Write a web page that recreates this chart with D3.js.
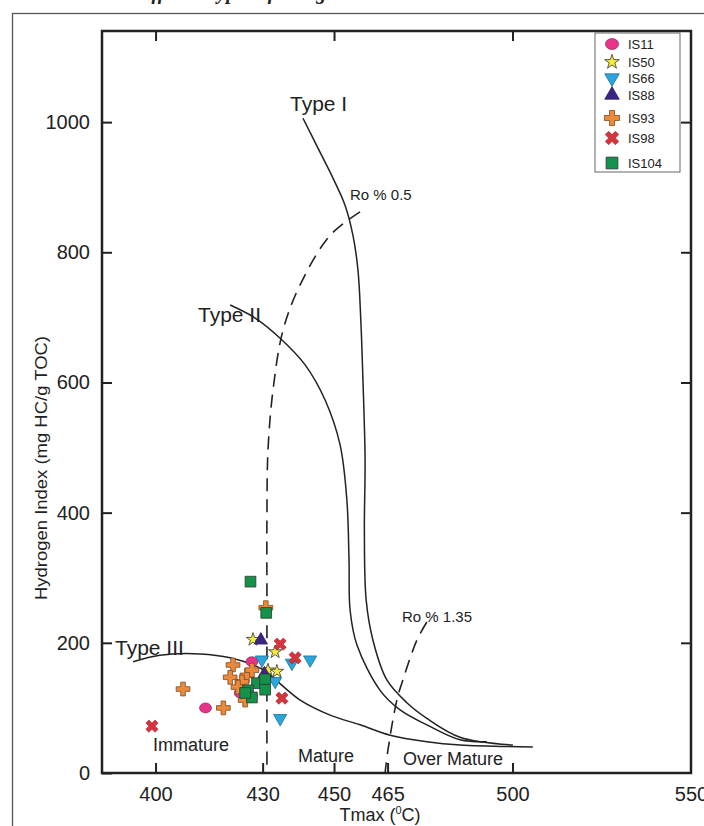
<!DOCTYPE html>
<meta charset="utf-8">
<script src="https://d3js.org/d3.v7.min.js"></script>
<style>
  body { margin: 0; background: #fff; }
  text { font-family: "Liberation Sans", Arial, sans-serif; fill: #222; }
</style>
<div id="my_dataviz"></div>
<script>

  // ---- data ----
  // samples: [Tmax, HI]
  var is11 = [[427, 171], [414, 100], [423.7, 123]];
  var is50 = [[427.3, 205], [433.5, 186], [431.5, 158], [434, 156]];
  var is66 = [[429.8, 174], [438.2, 169], [443.3, 174], [433.5, 141], [434.9, 84]];
  var is88 = [[429.5, 204], [430.5, 152]];
  var is93 = [[430.9, 254], [421.7, 166], [425.6, 150], [427, 158], [424.2, 140],
              [423.1, 132], [426.5, 120], [425.1, 112], [420.9, 147], [407.7, 129], [419, 100]];
  var is98 = [[434.9, 198], [439.1, 177], [435.4, 115], [399, 72]];
  var is104 = [[426.6, 294], [431, 246], [428.4, 138], [430.7, 144], [425.9, 127],
               [430.7, 128], [427, 116], [425.1, 123]];

  // kerogen type curves and vitrinite reflectance lines: [Tmax, HI]
  var typeI = [[441.3, 1006], [445.5, 960], [449.7, 914], [453.1, 872], [455.3, 826], [456.7, 773],
               [457.5, 696], [458.1, 604], [458.7, 481], [458.5, 373], [459, 266], [460.9, 204],
               [464.8, 143], [470.4, 108], [476, 84], [485.3, 55], [500.1, 43]];
  var typeII = [[420.9, 719], [427.9, 699], [434.9, 668], [441.9, 627], [447.5, 573], [451.7, 504],
                [453.6, 419], [454.2, 327], [454.5, 250], [456.4, 197], [462.9, 127], [468.5, 97],
                [476, 74], [485.3, 51], [492.8, 48]];
  var typeIII = [[393.7, 171], [401.2, 181], [412.5, 183], [420.9, 177], [429.3, 161], [440.5, 112],
                 [448.9, 89], [457.3, 74], [465.7, 58], [476, 48], [485.3, 43], [505.7, 40]];
  var ro05 = [[457.3, 862], [448.9, 826], [440.5, 750], [435.7, 680], [432.9, 588], [431.5, 496],
              [431.2, 389], [431.2, 266], [431.2, 0]];
  var ro135 = [[476, 232], [473.2, 204], [469.3, 143], [467.6, 112], [465.1, 35], [464.3, 0]];

  var xTicks = [400, 430, 450, 465, 500, 550];
  var xTopTicks = [400, 450, 500];
  var yTicks = [0, 200, 400, 600, 800, 1000];

  var series = [
    { name: "IS11", data: is11, shape: "ellipse", color: "#e8338b" },
    { name: "IS93", data: is93, shape: "plus", color: "#ec8a3c" },
    { name: "IS50", data: is50, shape: "star", color: "#f4ec3a" },
    { name: "IS66", data: is66, shape: "down", color: "#2aa6dc" },
    { name: "IS88", data: is88, shape: "up", color: "#3a2585" },
    { name: "IS98", data: is98, shape: "x", color: "#d5343c" },
    { name: "IS104", data: is104, shape: "square", color: "#15924a" }
  ];
  var legendOrder = ["IS11", "IS50", "IS66", "IS88", "IS93", "IS98", "IS104"];

  // ---- layout ----
  var W = 704, H = 826;
  var plot = { left: 102, right: 691, top: 31, bottom: 773 };

  var svg = d3.select("#my_dataviz")
    .append("svg")
    .attr("width", W)
    .attr("height", H);

  // cut-off caption at the very top (only descenders show)
  svg.append("text")
    .attr("x", 136)
    .attr("y", -1)
    .style("font-family", "'Liberation Serif', 'Times New Roman', serif")
    .style("font-style", "italic")
    .style("font-weight", "bold")
    .style("font-size", "20px")
    .text("different types of kerogen");

  // outer figure frame
  svg.append("rect")
    .attr("x", 12.5).attr("y", 13.5)
    .attr("width", 720).attr("height", 840)
    .attr("fill", "none")
    .attr("stroke", "#555")
    .attr("stroke-width", 1.3);

  var x = d3.scaleLinear().domain([385, 550]).range([plot.left, plot.right]);
  var y = d3.scaleLinear().domain([0, 1140]).range([plot.bottom, plot.top]);

  // axes, ticks pointing inwards
  var gx = svg.append("g")
    .attr("transform", "translate(0," + plot.bottom + ")")
    .call(d3.axisBottom(x).tickValues(xTicks).tickSize(-10).tickPadding(14).tickFormat(d3.format("d")));
  var gxTop = svg.append("g")
    .attr("transform", "translate(0," + plot.top + ")")
    .call(d3.axisTop(x).tickValues(xTopTicks).tickSize(-10).tickFormat(""));
  var gy = svg.append("g")
    .attr("transform", "translate(" + plot.left + ",0)")
    .call(d3.axisLeft(y).tickValues(yTicks).tickSize(-10).tickPadding(12).tickFormat(d3.format("d")));
  var gyR = svg.append("g")
    .attr("transform", "translate(" + plot.right + ",0)")
    .call(d3.axisRight(y).tickValues(yTicks.slice(1)).tickSize(-10).tickFormat(""));

  [gx, gxTop, gy, gyR].forEach(function (g) {
    g.select(".domain").remove();
    g.selectAll(".tick line").attr("stroke", "#222").attr("stroke-width", 2);
    g.selectAll(".tick text")
      .style("font-family", "'Liberation Sans', Arial, sans-serif")
      .style("font-size", "20px")
      .attr("fill", "#222");
  });
  gx.selectAll(".tick").filter(function (d) { return d === 550; }).select("line").remove();

  // plot frame
  svg.append("rect")
    .attr("x", plot.left).attr("y", plot.top)
    .attr("width", plot.right - plot.left).attr("height", plot.bottom - plot.top)
    .attr("fill", "none")
    .attr("stroke", "#222")
    .attr("stroke-width", 2.5);

  // axis titles
  var xt = svg.append("text")
    .attr("x", 380).attr("y", 821)
    .attr("text-anchor", "middle")
    .style("font-size", "18px");
  xt.append("tspan").text("Tmax (");
  xt.append("tspan").attr("dy", -7).style("font-size", "11px").text("0");
  xt.append("tspan").attr("dy", 7).text("C)");

  svg.append("text")
    .attr("transform", "translate(47,468) rotate(-90)")
    .attr("text-anchor", "middle")
    .attr("textLength", 264)
    .attr("lengthAdjust", "spacingAndGlyphs")
    .style("font-size", "17px")
    .text("Hydrogen Index (mg HC/g TOC)");

  // curves
  var line = d3.line()
    .x(function (d) { return x(d[0]); })
    .y(function (d) { return y(d[1]); })
    .curve(d3.curveCatmullRom.alpha(0.5));

  [typeI, typeII, typeIII].forEach(function (c) {
    svg.append("path")
      .datum(c)
      .attr("fill", "none")
      .attr("stroke", "#222")
      .attr("stroke-width", 1.5)
      .attr("d", line);
  });
  [ro05, ro135].forEach(function (c) {
    svg.append("path")
      .datum(c)
      .attr("fill", "none")
      .attr("stroke", "#222")
      .attr("stroke-width", 1.6)
      .attr("stroke-dasharray", "13 8")
      .attr("d", line);
  });

  // curve labels
  var labels = [
    { t: "Type I", x: 290, y: 111, s: 21 },
    { t: "Type II", x: 198, y: 322, s: 21 },
    { t: "Type III", x: 115, y: 655, s: 21 },
    { t: "Ro % 0.5", x: 350, y: 200, s: 15 },
    { t: "Ro % 1.35", x: 402, y: 622, s: 15 },
    { t: "Immature", x: 153, y: 751, s: 18 },
    { t: "Mature", x: 298, y: 762, s: 18 },
    { t: "Over Mature", x: 403, y: 765, s: 18 }
  ];
  svg.selectAll(".lbl")
    .data(labels)
    .enter().append("text")
    .attr("x", function (d) { return d.x; })
    .attr("y", function (d) { return d.y; })
    .style("font-size", function (d) { return d.s + "px"; })
    .text(function (d) { return d.t; });

  // marker drawing
  function drawMarker(g, shape, color, k) {
    k = k || 1;
    if (shape === "ellipse") {
      g.append("ellipse").attr("rx", 6 * k).attr("ry", 5 * k)
        .attr("fill", color).attr("stroke", "#7a2050").attr("stroke-width", 0.6);
      return;
    }
    var sym, size, rot = 0, stroke = "#333", sw = 0.8;
    if (shape === "square") { sym = d3.symbolSquare; size = 115; }
    if (shape === "star") { sym = d3.symbolStar; size = 55; }
    if (shape === "down") { sym = d3.symbolTriangle; size = 75; rot = 180; stroke = "#1a6f95"; }
    if (shape === "up") { sym = d3.symbolTriangle; size = 75; stroke = "#2a1a60"; }
    if (shape === "plus") { sym = d3.symbolCross; size = 105; stroke = "#7a4a20"; }
    if (shape === "x") { sym = d3.symbolCross; size = 95; rot = 45; stroke = "#8a2026"; sw = 0.5; }
    g.append("path")
      .attr("d", d3.symbol().type(sym).size(size * k * k)())
      .attr("transform", "rotate(" + rot + ")")
      .attr("fill", color)
      .attr("stroke", stroke)
      .attr("stroke-width", sw);
  }

  series.forEach(function (s) {
    s.data.forEach(function (d) {
      var g = svg.append("g")
        .attr("transform", "translate(" + x(d[0]) + "," + y(d[1]) + ")");
      drawMarker(g, s.shape, s.color);
    });
  });

  // legend
  var legend = svg.append("g").attr("transform", "translate(595,33)");
  legend.append("rect")
    .attr("width", 85).attr("height", 139)
    .attr("fill", "#fff")
    .attr("stroke", "#666")
    .attr("stroke-width", 1);
  var legendY = [11, 29, 45, 62, 85, 105, 130];
  legendOrder.forEach(function (name, i) {
    var s = series.find(function (d) { return d.name === name; });
    var g = legend.append("g").attr("transform", "translate(17," + legendY[i] + ")");
    drawMarker(g, s.shape, s.color, 1.1);
    legend.append("text")
      .attr("x", 33).attr("y", legendY[i] + 4.5)
      .style("font-size", "13px")
      .text(name);
  });

</script>
